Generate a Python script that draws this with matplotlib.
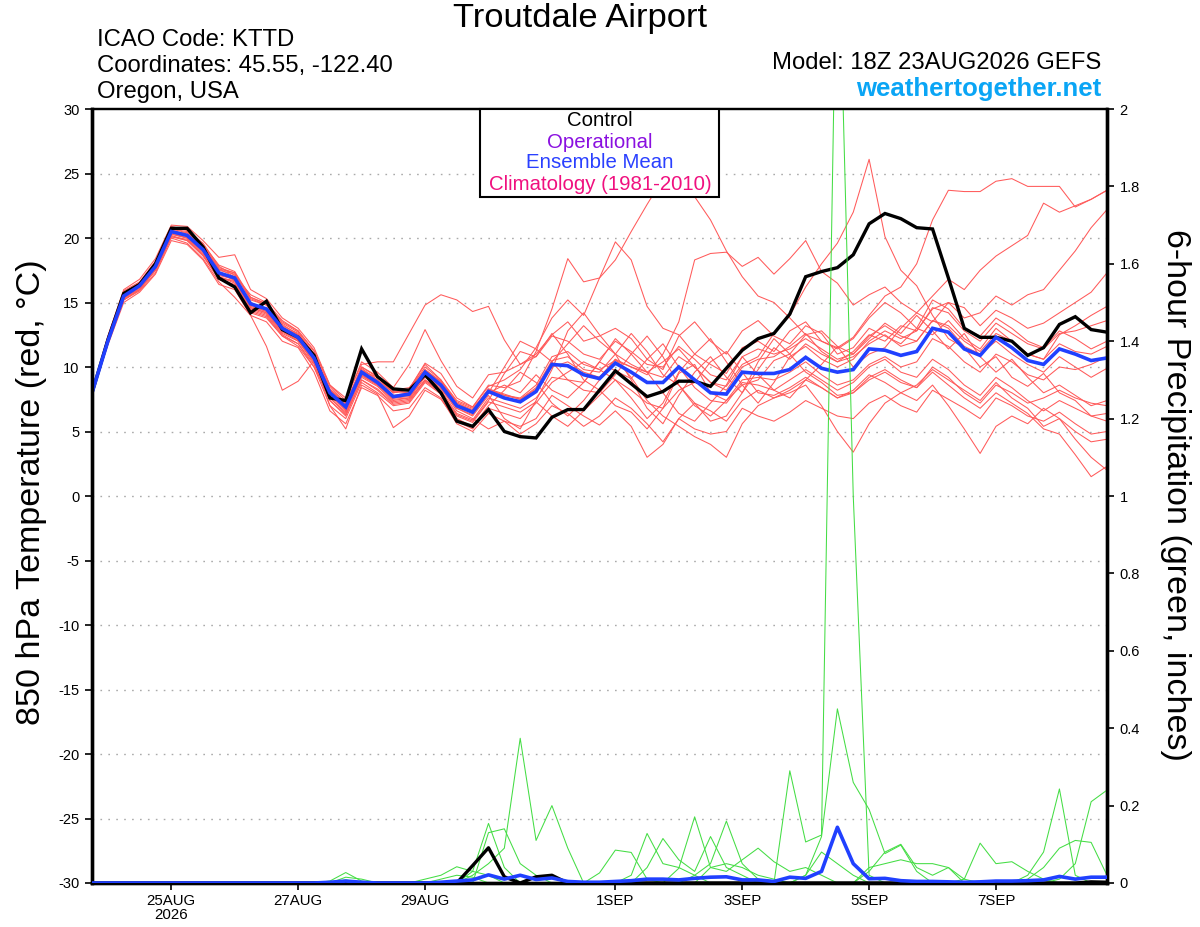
import numpy as np
import matplotlib
matplotlib.use("Agg")
import matplotlib.pyplot as plt
from matplotlib.patches import Rectangle

plt.rcParams['font.family'] = ['Liberation Sans', 'DejaVu Sans']

# ---------------- data ----------------
# forecast hours from 18Z 23AUG2026, every 6 h
hours = list(range(0, 385, 6))

tick_hours = [30, 78, 126, 198, 246, 294, 342]
tick_labels = ["25AUG\n2026", "27AUG", "29AUG", "1SEP", "3SEP", "5SEP", "7SEP"]

temp_control = [8.0, 12.1, 15.7, 16.4, 18.0, 20.75, 20.75, 19.3, 16.9, 16.2, 14.2, 15.1, 12.9, 12.3, 10.9, 7.6, 7.4,
                11.4, 9.25, 8.3, 8.2, 9.4, 8.0, 5.8, 5.4, 6.7, 5.0, 4.6, 4.5, 6.1, 6.7, 6.7, 8.2,
                9.7, 8.7, 7.7, 8.1, 8.9, 8.9, 8.5, 9.9, 11.3, 12.2, 12.6, 14.1, 17.0, 17.4, 17.7, 18.7,
                21.1, 21.9, 21.5, 20.8, 20.7, 16.9, 13.0, 12.3, 12.3, 12.0, 10.9, 11.5, 13.3, 13.9, 12.9, 12.7]

temp_mean = [8.0, 12.0, 15.5, 16.3, 17.8, 20.5, 20.2, 19.1, 17.3, 16.9, 14.9, 14.5, 13.0, 12.3, 10.7, 8.0, 6.9,
             9.6, 8.8, 7.7, 7.9, 9.6, 8.6, 7.0, 6.5, 8.1, 7.6, 7.3, 8.1, 10.2, 10.1, 9.4, 9.1,
             10.3, 9.6, 8.8, 8.8, 10.0, 9.0, 8.0, 7.9, 9.6, 9.5, 9.5, 9.8, 10.75, 9.9, 9.6, 9.8,
             11.4, 11.3, 10.9, 11.2, 13.0, 12.7, 11.4, 10.9, 12.3, 11.5, 10.5, 10.2, 11.4, 11.0, 10.5, 10.7]

temp_members = [
    [8.0,12.3,15.9,16.6,18.2,20.9,20.6,19.6,17.8,17.1,15.6,15.0,13.6,12.8,11.2,8.5,7.2,
     9.9,9.0,8.0,8.3,10.3,9.5,7.6,6.9,8.5,9.0,9.8,11.5,13.8,15.2,14.0,16.9,
     18.3,20.5,22.6,24.6,25.4,23.2,21.4,19.0,17.0,15.5,15.0,13.8,12.5,12.8,11.6,11.0,
     12.2,13.4,12.6,14.0,12.8,11.4,12.6,10.8,9.6,10.6,9.2,8.0,8.6,7.8,7.0,7.4],
    [8.0,12.0,15.4,16.0,17.6,20.3,20.0,18.8,17.0,16.5,14.4,14.0,12.5,11.8,10.0,7.6,6.5,
     9.2,8.5,7.3,7.5,9.0,8.0,6.3,5.8,7.4,9.5,11.2,10.8,12.6,11.0,9.0,8.2,
     7.0,6.5,5.2,6.8,9.5,10.2,8.0,7.4,8.6,9.0,10.5,11.0,12.5,12.0,11.5,12.3,
     14.0,15.5,16.2,18.0,21.4,23.7,23.6,23.6,24.4,24.6,24.0,24.0,24.0,22.4,23.0,23.7],
    [8.0,12.2,15.6,16.5,18.0,20.7,20.5,19.4,17.6,17.3,15.2,14.8,13.3,12.5,10.9,8.2,7.0,
     10.0,9.3,8.2,8.4,9.8,8.9,7.3,6.8,8.2,7.8,7.5,8.4,10.5,10.8,9.8,9.6,
     11.0,10.2,9.6,9.2,10.8,10.0,8.8,8.5,10.2,10.8,12.6,14.0,16.2,18.0,19.6,22.0,
     26.1,20.1,17.5,16.3,14.0,12.2,11.5,10.0,10.8,9.2,8.5,9.5,8.0,7.4,6.2,5.8],
    [8.0,11.8,15.3,16.1,17.5,20.1,19.9,18.7,16.9,16.7,14.6,14.2,12.8,12.0,10.4,7.8,6.6,
     9.4,8.6,7.5,7.6,9.2,8.3,6.8,6.2,7.8,6.0,5.2,7.4,9.8,12.8,14.2,12.5,
     11.0,9.0,6.8,5.6,7.8,9.6,10.8,9.2,8.0,9.8,11.5,10.6,11.8,11.0,10.4,11.2,
     12.5,12.0,13.2,12.8,14.5,15.0,13.8,14.2,15.5,14.8,15.6,16.0,17.5,19.0,20.8,22.2],
    [8.0,12.1,15.5,16.4,17.9,20.6,20.3,19.0,17.2,16.8,14.7,14.3,12.9,12.2,10.6,7.9,6.8,
     9.5,8.7,7.6,7.8,9.4,8.5,6.9,6.4,8.0,8.6,8.0,9.4,8.2,7.6,8.8,10.4,
     12.2,11.0,9.6,8.0,6.4,5.8,7.2,8.6,10.8,9.4,8.2,7.6,9.0,10.2,11.6,10.0,
     11.0,11.5,13.0,14.2,15.5,16.8,16.0,17.5,18.6,19.4,20.2,22.7,22.0,22.5,23.0,23.7],
    [8.0,12.4,16.0,16.8,18.4,21.0,20.9,19.8,18.5,18.7,16.0,15.3,13.8,13.0,11.5,8.6,7.6,
     10.2,10.4,10.4,12.6,14.8,15.6,15.2,14.3,14.7,12.1,10.2,11.0,12.5,13.5,12.0,12.4,
     13.0,12.2,10.6,9.8,12.4,13.5,12.0,11.0,12.8,13.6,12.4,11.8,13.2,12.6,11.0,11.5,
     13.0,12.4,11.8,13.0,15.2,14.5,13.0,12.4,13.8,13.0,12.0,11.5,12.8,12.2,11.4,12.0],
    [8.0,11.9,15.6,16.2,17.7,20.4,20.4,19.3,17.6,17.0,15.0,14.5,13.1,12.5,10.8,8.2,7.0,
     9.8,9.0,8.0,8.2,10.0,9.0,7.4,6.9,8.6,8.4,8.9,11.2,14.5,18.4,16.6,16.9,
     19.7,18.3,14.7,13.0,12.5,11.0,10.2,9.5,11.5,12.0,11.2,12.8,13.5,12.0,11.4,12.2,
     13.8,15.0,14.2,13.0,12.5,13.6,12.2,11.4,13.0,12.0,11.0,10.6,12.5,13.2,14.0,14.7],
    [8.0,12.1,15.7,16.5,18.1,20.8,20.7,19.5,17.9,17.4,15.4,14.9,13.4,12.7,11.0,8.3,7.1,
     9.7,9.2,8.1,8.0,9.6,8.9,7.2,6.7,8.3,7.9,7.5,8.3,10.0,10.4,9.6,9.2,
     10.6,10.0,9.4,11.0,13.5,18.3,18.8,18.9,17.8,18.5,17.2,18.4,19.8,17.4,16.5,14.8,
     15.6,16.2,15.0,14.2,13.5,15.0,14.6,13.2,14.4,13.8,13.0,13.4,14.2,15.0,15.8,17.3],
    [8.0,11.7,15.0,15.8,17.2,19.8,19.5,18.3,16.4,16.0,14.0,13.5,12.0,11.5,9.6,6.6,5.6,
     8.4,7.8,6.6,6.8,8.4,7.6,5.6,5.0,6.4,5.8,5.4,6.0,7.8,7.0,6.2,5.5,
     6.6,5.4,3.0,4.0,6.0,5.2,4.8,5.0,6.8,6.2,5.8,6.5,7.4,6.8,6.2,6.0,
     7.2,7.8,7.0,6.5,8.2,7.5,6.8,6.0,7.6,7.0,6.2,5.8,6.5,5.6,4.8,5.0],
    [8.0,11.9,15.2,16.0,17.5,20.2,19.8,18.6,16.8,16.4,14.2,13.8,12.4,11.6,10.0,7.0,6.0,
     8.8,8.0,7.0,7.2,8.8,7.9,6.0,5.4,7.0,8.2,9.6,8.8,7.2,6.2,7.4,9.0,
     10.6,9.2,7.4,6.2,5.4,4.6,4.0,3.0,5.6,7.0,7.6,8.2,9.0,8.4,7.6,8.2,
     9.4,8.8,8.0,8.6,9.8,9.0,8.2,7.4,8.8,7.6,6.8,5.4,6.0,4.4,3.0,2.0],
    [8.0,12.0,15.3,16.2,17.6,20.4,20.0,18.9,17.0,16.6,14.5,14.1,12.6,12.0,10.3,7.4,6.2,
     9.0,8.3,7.2,7.4,9.0,8.2,6.4,5.9,7.6,7.2,6.8,7.6,9.2,9.0,8.2,8.0,
     9.4,11.0,12.4,10.8,8.6,7.2,5.8,6.2,8.0,10.4,12.2,11.0,9.6,8.8,7.8,8.0,
     9.2,9.8,9.0,8.4,9.6,8.6,7.6,6.8,8.0,7.2,6.4,5.2,4.8,3.2,1.5,2.3],
    [8.0,12.2,15.6,16.4,17.9,20.6,20.2,19.0,17.1,16.8,14.6,14.2,12.7,12.1,10.5,7.6,6.4,
     9.3,8.6,7.4,7.6,9.3,8.4,6.6,6.0,5.2,5.8,4.8,5.6,7.0,6.4,5.4,6.2,
     7.6,6.8,5.6,4.2,6.0,7.2,6.6,5.8,7.4,8.2,7.6,8.0,8.6,7.0,5.0,3.4,
     5.6,7.2,8.0,7.4,8.6,7.0,5.2,3.3,5.4,6.2,5.6,6.8,6.0,5.0,4.2,4.4],
    [8.0,12.0,15.2,15.9,17.3,20.0,19.6,18.4,16.6,15.4,14.0,11.6,8.2,8.9,10.5,7.0,5.2,
     8.6,7.9,5.3,6.2,8.2,7.5,5.8,5.2,6.8,6.4,6.0,7.2,8.8,9.6,10.4,9.8,
     10.5,10.0,9.6,10.4,11.4,10.0,8.8,8.2,10.0,10.6,10.8,11.6,12.6,11.2,10.4,10.8,
     11.8,12.5,11.6,12.0,13.6,13.0,11.6,11.0,12.0,11.0,10.2,9.6,10.8,10.0,9.2,9.9],
    [8.0,12.3,15.8,16.5,18.0,20.7,20.4,19.4,17.5,17.2,15.3,14.8,13.2,12.6,11.0,8.3,7.2,
     10.0,9.2,8.0,8.3,10.2,9.0,7.2,6.6,8.2,7.6,7.4,8.2,10.4,11.8,13.2,12.0,
     11.0,12.6,11.2,9.4,8.6,7.0,6.2,7.4,9.0,9.2,9.0,9.6,10.4,9.4,8.6,9.0,
     10.2,10.8,10.0,10.4,12.2,11.6,10.4,9.6,11.0,10.4,9.4,9.0,10.0,9.8,10.2,10.8],
    [8.0,12.0,15.4,16.2,17.7,20.3,20.0,19.0,17.3,16.7,14.8,14.4,12.9,12.3,10.7,8.0,6.9,
     9.6,8.9,7.8,8.0,9.8,8.8,7.0,6.6,8.3,7.8,7.6,8.6,10.8,11.2,10.2,9.8,
     9.0,7.6,6.0,7.2,9.6,11.0,12.2,10.4,8.6,7.2,8.8,10.8,11.6,10.6,10.0,10.6,
     12.0,12.8,12.2,12.8,14.6,14.2,12.8,12.0,13.4,12.6,11.8,11.4,12.6,12.8,13.2,13.6],
    [8.0,11.8,15.2,16.0,17.5,20.1,19.8,18.7,16.8,16.3,14.3,13.9,12.4,11.8,10.2,7.4,6.3,
     9.0,8.2,7.1,7.3,8.9,8.0,6.2,5.7,7.3,6.9,6.5,7.3,6.2,5.4,6.6,7.8,
     9.0,8.2,7.2,6.8,8.2,8.8,10.4,11.2,9.6,8.0,7.8,8.4,9.2,8.4,7.6,8.0,
     9.0,9.6,8.8,8.4,10.0,9.2,8.0,7.2,8.6,8.0,7.2,7.6,8.2,7.6,7.2,7.0],
    [8.0,12.1,15.6,16.3,17.8,20.5,20.1,19.1,17.2,16.9,14.8,14.3,12.8,12.2,10.6,7.8,6.7,
     9.4,8.6,7.6,7.7,9.4,8.5,6.8,6.3,8.0,10.0,12.0,11.4,10.4,9.0,8.8,10.4,
     9.7,9.1,10.6,11.8,10.0,8.4,7.4,7.2,8.8,8.6,8.2,9.0,9.8,9.0,8.2,8.8,
     10.0,10.6,9.6,9.2,10.6,9.8,8.6,7.8,9.2,8.4,7.4,6.6,7.4,6.8,6.2,6.4],
    [8.0,12.2,15.7,16.5,18.1,20.8,20.6,19.5,17.7,17.3,15.4,14.9,13.5,12.8,11.3,8.6,7.4,
     10.4,9.6,8.4,10.2,12.9,10.5,8.5,7.6,9.4,9.6,10.2,10.8,12.4,12.0,11.0,10.6,
     12.0,11.2,10.2,10.0,11.6,10.6,9.4,9.0,10.8,11.4,11.0,11.4,12.2,11.4,10.6,11.0,
     12.4,13.2,12.4,12.0,13.6,13.2,12.0,11.2,12.6,12.0,11.0,10.6,11.8,11.2,11.0,11.6],
]

# 6-hour precipitation (inches): {step index: value}, all other steps are 0
precip_members = [
    {44: 0.29, 45: 0.106, 46: 0.124, 47: 2.58, 48: 1.0, 49: 0.02},
    {45: 0.02, 46: 0.12, 47: 0.45, 48: 0.26, 49: 0.19, 50: 0.076, 51: 0.098, 52: 0.03},
    {24: 0.02, 25: 0.05, 26: 0.09, 27: 0.374, 28: 0.11, 29: 0.2, 30: 0.09},
    {24: 0.03, 25: 0.154, 26: 0.04},
    {25: 0.13, 26: 0.14, 27: 0.05, 28: 0.02},
    {21: 0.01, 22: 0.02, 23: 0.042, 24: 0.03, 25: 0.02},
    {15: 0.005, 16: 0.027, 17: 0.005},
    {16: 0.015, 17: 0.01},
    {16: 0.008, 22: 0.01, 23: 0.02, 24: 0.015},
    {32: 0.026, 33: 0.085, 34: 0.079, 35: 0.01},
    {34: 0.02, 35: 0.128, 36: 0.05, 37: 0.04, 38: 0.02},
    {35: 0.04, 36: 0.115, 37: 0.06, 38: 0.03, 39: 0.12, 40: 0.04, 41: 0.02},
    {37: 0.038, 38: 0.171, 39: 0.04, 40: 0.03, 41: 0.06, 42: 0.09, 43: 0.055, 44: 0.03, 45: 0.04, 46: 0.02},
    {38: 0.02, 39: 0.05, 40: 0.16, 41: 0.05, 42: 0.01},
    {39: 0.04, 40: 0.05, 41: 0.04, 42: 0.02, 43: 0.01, 45: 0.02, 46: 0.08, 47: 0.05, 48: 0.02},
    {49: 0.03, 50: 0.08, 51: 0.1, 52: 0.04, 53: 0.02, 54: 0.04, 55: 0.01},
    {49: 0.04, 50: 0.05, 51: 0.06, 52: 0.05, 53: 0.05, 54: 0.04},
    {55: 0.01, 56: 0.103, 57: 0.05, 58: 0.055, 59: 0.03, 60: 0.01},
    {59: 0.02, 60: 0.08, 61: 0.243, 62: 0.02},
    {61: 0.01, 62: 0.05, 63: 0.21, 64: 0.24},
    {59: 0.01, 60: 0.04, 61: 0.09, 62: 0.11, 63: 0.105, 64: 0.02},
]

precip_control = {24: 0.045, 25: 0.091, 26: 0.016, 28: 0.016, 29: 0.02, 63: 0.003, 64: 0.002}

precip_mean = [0, 0, 0, 0, 0, 0, 0, 0, 0, 0, 0, 0, 0, 0, 0, 0.002, 0.005,
               0.002, 0, 0, 0, 0, 0.002, 0.005, 0.008, 0.021, 0.01, 0.02, 0.009, 0.013, 0.004, 0.002, 0.002,
               0.004, 0.006, 0.01, 0.01, 0.008, 0.012, 0.015, 0.016, 0.008, 0.008, 0.004, 0.015, 0.012, 0.03, 0.144, 0.05,
               0.011, 0.012, 0.006, 0.004, 0.004, 0.003, 0.002, 0.003, 0.005, 0.005, 0.006, 0.008, 0.017, 0.01, 0.015, 0.015]

temp_ticks = [30, 25, 20, 15, 10, 5, 0, -5, -10, -15, -20, -25, -30]
precip_ticks = [0, 0.2, 0.4, 0.6, 0.8, 1, 1.2, 1.4, 1.6, 1.8, 2]
precip_tick_labels = ["0", "0.2", "0.4", "0.6", "0.8", "1", "1.2", "1.4", "1.6", "1.8", "2"]

# ---------------- plotting ----------------
W, H = 1200, 927
fig = plt.figure(figsize=(W / 100, H / 100), dpi=100)


def fx(x):
    return x / W


def fy(y):
    return 1 - y / H


ax = fig.add_axes([fx(92), fy(883), (1107 - 92) / W, (883 - 109) / H])
ax2 = ax.twinx()

x = np.array(hours)


def sparse(d):
    a = np.zeros(len(hours))
    for k, v in d.items():
        a[k] = v
    return a


for m in temp_members:
    ax.plot(x[:len(m)], m, color='#ff5a5a', lw=0.75, zorder=2)
ax.plot(x, temp_control, color='black', lw=2.4, zorder=3, solid_joinstyle='miter')
ax.plot(x, temp_mean, color='#2040ff', lw=2.6, zorder=4, solid_joinstyle='miter')

for d in precip_members:
    ax2.plot(x, sparse(d), color='#44dd44', lw=0.75, zorder=2)
ax2.plot(x, sparse(precip_control), color='black', lw=2.4, zorder=3)
ax2.plot(x, precip_mean, color='#2040ff', lw=2.6, zorder=4)

ax.set_xlim(0, 384)
ax.set_ylim(-30, 30)
ax2.set_ylim(0, 2)

for t in temp_ticks:
    if -30 < t < 30:
        ax.axhline(t, color='#aaaaaa', lw=1.0, ls=(0, (1.2, 4.5)), zorder=1)

ax.set_yticks(temp_ticks)
ax.set_yticklabels([str(t) for t in temp_ticks])
ax2.set_yticks(precip_ticks)
ax2.set_yticklabels(precip_tick_labels)
ax.set_xticks(tick_hours)
ax.set_xticklabels(tick_labels, linespacing=1.0)

ax.tick_params(axis='y', direction='out', length=5, width=1.2, pad=4, labelsize=10.5)
ax2.tick_params(axis='y', direction='out', length=5, width=1.2, pad=4, labelsize=10.5)
ax.tick_params(axis='x', direction='out', length=5, width=1.2, pad=3, labelsize=10.8)

for a in (ax, ax2):
    a.spines['left'].set_linewidth(2.4)
    a.spines['bottom'].set_linewidth(2.4)
    a.spines['right'].set_linewidth(2.4)
    a.spines['top'].set_linewidth(1.6)
ax.patch.set_visible(False)

# axis titles
fig.text(fx(32), fy(492), "850 hPa Temperature (red, °C)", rotation=90,
         ha='center', va='center', fontsize=24.5)
fig.text(fx(1175), fy(495), "6-hour Precipitation (green, inches)", rotation=270,
         ha='center', va='center', fontsize=24.5)

# header texts
fig.text(fx(580), fy(18), "Troutdale Airport", ha='center', va='center', fontsize=24.8)
fig.text(fx(97), fy(40), "ICAO Code: KTTD", ha='left', va='center', fontsize=17.2)
fig.text(fx(97), fy(66), "Coordinates: 45.55, -122.40", ha='left', va='center', fontsize=17.2)
fig.text(fx(97), fy(92), "Oregon, USA", ha='left', va='center', fontsize=17.2)
fig.text(fx(1101), fy(63), "Model: 18Z 23AUG2026 GEFS", ha='right', va='center', fontsize=17.2)
fig.text(fx(1101), fy(89), "weathertogether.net", ha='right', va='center', fontsize=18.5,
         fontweight='bold', color='#0aa5f5')

# legend box
box = Rectangle((fx(480), fy(197)), (719 - 480) / W, (197 - 109) / H, transform=fig.transFigure,
                facecolor='white', edgecolor='black', lw=1.5, zorder=10)
fig.add_artist(box)
leg_items = [("Control", 'black', 120), ("Operational", '#8a10e0', 142),
             ("Ensemble Mean", '#2a40ff', 163), ("Climatology (1981-2010)", '#f0107f', 185)]
for txt, col, yy in leg_items:
    t = fig.text(fx(600), fy(yy), txt, ha='center', va='center', fontsize=14.7, color=col)
    t.set_zorder(11)

fig.savefig("out.png", dpi=100)
